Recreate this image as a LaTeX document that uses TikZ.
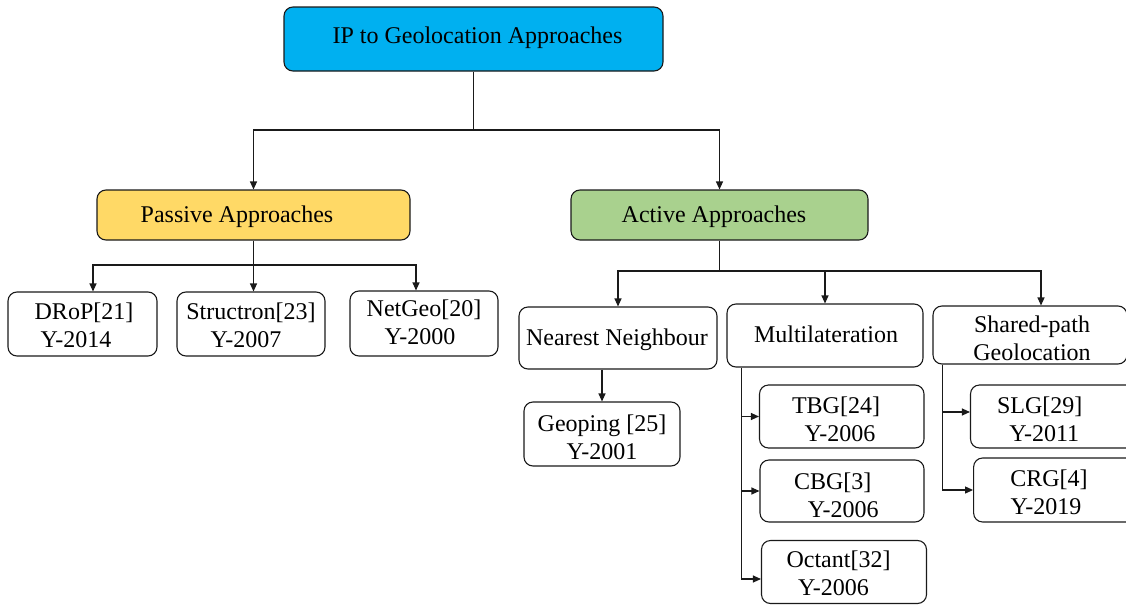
\documentclass[tikz,border=0pt]{standalone}
\usepackage{fontspec}
\setmainfont{Liberation Serif}
\usetikzlibrary{arrows.meta}
\definecolor{rootblue}{HTML}{00B0F0}
\definecolor{passgold}{HTML}{FFD966}
\definecolor{actgreen}{HTML}{A9D18E}
\definecolor{edge}{HTML}{1A1A1A}
% shift one line of a centred text block sideways
\newcommand{\lsh}[2]{\hspace*{#1}#2}
\begin{document}
\begin{tikzpicture}[x=1pt,y=-1pt,
  box/.style={draw=edge, line width=1.1pt, rounded corners=9pt, inner sep=0pt, fill=white},
  txt/.style={font=\fontsize{24}{28}\selectfont, align=center, inner sep=0pt},
  link/.style={draw=edge, line width=1.1pt},
  arr/.style={link, -{Triangle[length=8pt,width=7pt]}}]
\useasboundingbox (0,0) rectangle (1126,605);

% ---- boxes ----
\node[box, fill=rootblue, minimum width=379pt, minimum height=64pt] (root) at (473.5,39) {};
\node[box, fill=passgold, minimum width=313pt, minimum height=50pt] (passive) at (253.5,215) {};
\node[box, fill=actgreen, minimum width=297pt, minimum height=50pt] (active) at (719.5,215) {};

\node[box, minimum width=149pt, minimum height=64pt] (drop) at (82.5,324) {};
\node[box, minimum width=148pt, minimum height=64pt] (structron) at (251,324) {};
\node[box, minimum width=148pt, minimum height=65pt] (netgeo) at (424,323.5) {};

\node[box, minimum width=198pt, minimum height=62pt] (nn) at (618,338) {};
\node[box, minimum width=196pt, minimum height=63pt] (multi) at (825,335.5) {};
\node[box, minimum width=194pt, minimum height=58pt] (shared) at (1030,335) {};

\node[box, minimum width=156pt, minimum height=64pt] (geoping) at (602,434) {};
\node[box, minimum width=164.5pt, minimum height=63pt] (tbg) at (841.75,416.5) {};
\node[box, minimum width=164pt, minimum height=62pt] (cbg) at (842,491) {};
\node[box, minimum width=165pt, minimum height=63pt] (octant) at (844,572) {};
\node[box, minimum width=164.5pt, minimum height=63pt] (slg) at (1052.75,416.5) {};
\node[box, minimum width=161.4pt, minimum height=64pt] (crg) at (1054.3,490) {};

% ---- texts ----
\node[txt] (root-t) at (477.5,38) {IP to Geolocation Approaches};
\node[txt] (passive-t) at (237,217) {Passive Approaches};
\node[txt] (active-t) at (714,217) {Active Approaches};
\node[txt] (drop-t) at (80,325) {\lsh{8pt}{DRoP[21]}\\\lsh{-8pt}{Y-2014}};
\node[txt] (structron-t) at (248.5,325) {\lsh{5pt}{Structron[23]}\\\lsh{-5pt}{Y-2007}};
\node[txt] (netgeo-t) at (422,322) {\lsh{4pt}{NetGeo[20]}\\\lsh{-4pt}{Y-2000}};
\node[txt] (nn-t) at (617,340) {Nearest Neighbour};
\node[txt] (multi-t) at (826,334) {Multilateration};
\node[txt] (shared-t) at (1032,338) {Shared-path\\Geolocation};
\node[txt] (geoping-t) at (602,437) {Geoping [25]\\Y-2001};
\node[txt] (tbg-t) at (838,419) {\lsh{-4pt}{TBG[24]}\\\lsh{4pt}{Y-2006}};
\node[txt] (cbg-t) at (838,495) {\lsh{-10.5pt}{CBG[3]}\\\lsh{10.5pt}{Y-2006}};
\node[txt] (octant-t) at (836,573) {\lsh{5pt}{Octant[32]}\\\lsh{-5pt}{Y-2006}};
\node[txt] (slg-t) at (1042,419) {\lsh{-4.5pt}{SLG[29]}\\\lsh{4.5pt}{Y-2011}};
\node[txt] (crg-t) at (1047.5,492) {\lsh{3pt}{CRG[4]}\\\lsh{-3pt}{Y-2019}};

% ---- root to the two families ----
\coordinate (j1) at (root.south |- 0,130);
\draw[link] (root.south) -- (j1);
\draw[arr] (j1) -| (passive.north);
\draw[arr] (j1) -| (active.north);

% ---- passive approaches ----
\coordinate (j2) at (passive.south |- 0,265);
\draw[link] (passive.south) -- (j2);
\draw[arr] (j2) -| ([xshift=10.5pt]drop.north);
\draw[arr] (j2) -- (j2 |- structron.north);
\draw[arr] (j2) -| ([xshift=-8pt]netgeo.north);

% ---- active approaches ----
\coordinate (j3) at (active.south |- 0,271);
\draw[link] (active.south) -- (j3);
\draw[arr] (j3) -| (nn.north);
\draw[arr] (j3) -| (multi.north);
\draw[arr] (j3) -| ([xshift=11pt]shared.north);

% nearest neighbour
\draw[arr] (nn.south -| geoping.north) -- (geoping.north);

% multilateration
\coordinate (m0) at ([xshift=15pt]multi.south west);
\coordinate (octin) at ([yshift=-7pt]octant.west);
\draw[arr] (m0) |- (octin);
\draw[arr] (m0 |- tbg.west) -- (tbg.west);
\draw[arr] (m0 |- cbg.west) -- (cbg.west);

% shared-path geolocation
\coordinate (s0) at ([xshift=10.4pt]shared.south west);
\coordinate (slgin) at ([yshift=4.5pt]slg.west);
\draw[arr] (s0) |- (crg.west);
\draw[arr] (s0 |- slgin) -- (slgin);
\end{tikzpicture}
\end{document}
